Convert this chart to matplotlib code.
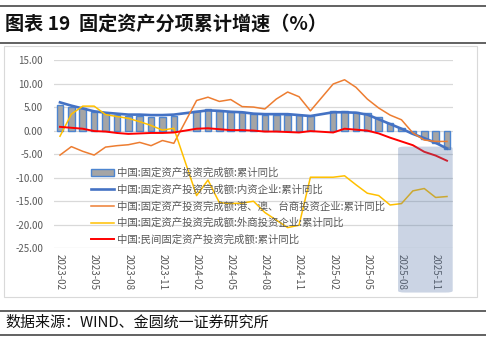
import matplotlib
matplotlib.use("Agg")
import matplotlib.pyplot as plt
from matplotlib.patches import FancyBboxPatch, Rectangle
from matplotlib.lines import Line2D

plt.rcParams['font.family'] = ['Noto Sans CJK SC', 'DejaVu Sans']
plt.rcParams['axes.unicode_minus'] = False

# months with data (Jan is merged into Feb, so it is missing)
months = [f"{y}-{m:02d}" for y in (2023, 2024, 2025) for m in range(2, 13)]
tick_labels = ["2023-02", "2023-05", "2023-08", "2023-11",
               "2024-02", "2024-05", "2024-08", "2024-11",
               "2025-02", "2025-05", "2025-08", "2025-11"]

total = [5.5, 5.1, 4.7, 4.0, 3.8, 3.4, 3.2, 3.1, 2.9, 2.9, 3.0,
         4.2, 4.5, 4.2, 4.0, 3.9, 3.6, 3.4, 3.4, 3.4, 3.3, 3.2,
         4.1, 4.2, 4.0, 3.7, 2.8, 1.6, 0.5, -0.5, -1.7, -2.6, -3.8]
domestic = [6.0, 5.3, 4.7, 4.1, 3.8, 3.6, 3.4, 3.4, 3.3, 3.3, 3.4,
            4.0, 4.3, 4.2, 4.0, 3.9, 3.6, 3.5, 3.5, 3.5, 3.3, 3.1,
            3.9, 3.9, 3.8, 3.4, 2.4, 1.4, 0.4, -0.7, -1.6, -2.6, -3.8]
hmt = [-5.2, -3.4, -4.4, -5.2, -3.5, -3.2, -3.0, -2.5, -3.2, -2.1, -2.7,
       6.4, 7.1, 6.2, 6.6, 5.1, 5.0, 4.6, 6.7, 8.2, 7.2, 4.2,
       9.9, 10.8, 9.2, 6.7, 4.8, 3.3, 2.3, -0.5, -2.0, -2.3, -2.3]
foreign = [-1.2, 3.5, 5.2, 5.2, 3.4, 3.0, 2.6, 1.9, 1.1, 0.1, 0.5,
           -13.8, -10.5, -15.3, -15.5, -15.4, -15.0, -17.4, -19.0, -20.6, -20.1, -9.9,
           -9.9, -9.6, -11.5, -13.3, -13.8, -15.8, -15.5, -12.8, -12.3, -14.2, -14.0]
private = [0.8, 0.6, 0.4, -0.1, -0.2, -0.5, -0.7, -0.6, -0.5, -0.5, -0.4,
           0.4, 0.5, 0.3, 0.1, 0.1, 0.0, -0.2, -0.2, -0.3, -0.4, -0.1,
           -0.4, 0.4, 0.2, 0.0, -0.6, -1.5, -2.3, -3.1, -4.5, -5.3, -6.4]

labels = ["中国:固定资产投资完成额:累计同比",
          "中国:固定资产投资完成额:内资企业:累计同比",
          "中国:固定资产投资完成额:港、澳、台商投资企业:累计同比",
          "中国:固定资产投资完成额:外商投资企业:累计同比",
          "中国:民间固定资产投资完成额:累计同比"]


def month_pos(s):
    y, m = s.split("-")
    return (int(y) - 2023) * 12 + int(m) - 2


x = [month_pos(s) for s in months]
ticks = [month_pos(s) for s in tick_labels]

W, H = 486, 341
fig = plt.figure(figsize=(W / 100, H / 100), dpi=100)
ax = fig.add_axes([54.3 / W, 1 - 248.3 / H, 398.4 / W, 188.3 / H])

h0 = ax.bar(x, total, width=0.58, color='#a5a5a5', edgecolor='#4d85d0',
            linewidth=1.0, zorder=2)
h1, = ax.plot(x, domestic, color='#4472c4', lw=1.9, zorder=3)
h2, = ax.plot(x, hmt, color='#ed7d31', lw=1.1, zorder=4)
h3, = ax.plot(x, foreign, color='#ffc000', lw=1.1, zorder=4)
h4, = ax.plot(x, private, color='#ff0000', lw=1.4, zorder=5)

ax.set_xlim(-0.5, 34.5)
ax.set_ylim(-25, 15)
ax.set_yticks(range(-25, 16, 5))
ax.set_yticklabels([f"{v:.2f}" for v in range(-25, 16, 5)])
ax.set_xticks(ticks)
ax.set_xticklabels(tick_labels, rotation=-90, va='top', ha='center')
ax.tick_params(length=0, labelsize=7, colors='#595959')
ax.tick_params(axis='y', pad=8)
ax.tick_params(axis='x', pad=4)
ax.grid(axis='y', color='#d9d9d9', lw=0.9, zorder=0)
ax.set_axisbelow(True)
for sp in ax.spines.values():
    sp.set_visible(False)

leg = ax.legend([h0, h1, h2, h3, h4], labels,
                loc='upper left', bbox_to_anchor=(0.08, 0.455), frameon=False,
                fontsize=7.5, labelcolor='#595959', handlelength=2.2,
                handletextpad=0.3, labelspacing=0.62, borderpad=0)
leg.set_zorder(6)

# highlight box over the last months
box = FancyBboxPatch((29.7, -34.4), 4.8, 31.0,
                     boxstyle="round,pad=0,rounding_size=0.6",
                     mutation_aspect=0.6,
                     facecolor=(0.33, 0.45, 0.65), alpha=0.3, lw=0,
                     clip_on=False, zorder=7)
ax.add_patch(box)

# chart frame and page decoration
fig.patches.append(Rectangle((4 / W, 1 - 297 / H), 473 / W, 251 / H,
                             transform=fig.transFigure, fill=False,
                             edgecolor='#d9d9d9', lw=0.8))
for yy in (6, 43, 311, 335):
    fig.add_artist(Line2D([0, 1], [1 - yy / H] * 2, color='#555555', lw=1.3,
                          transform=fig.transFigure))

fig.text(5 / W, 1 - 24 / H, "图表 19  固定资产分项累计增速（%）",
         fontsize=13.8, fontweight='bold', va='center', ha='left', color='#111111')
fig.text(5 / W, 1 - 323 / H, "数据来源：WIND、金圆统一证券研究所",
         fontsize=10.8, va='center', ha='left', color='#111111')

fig.savefig("out.png", dpi=100)
